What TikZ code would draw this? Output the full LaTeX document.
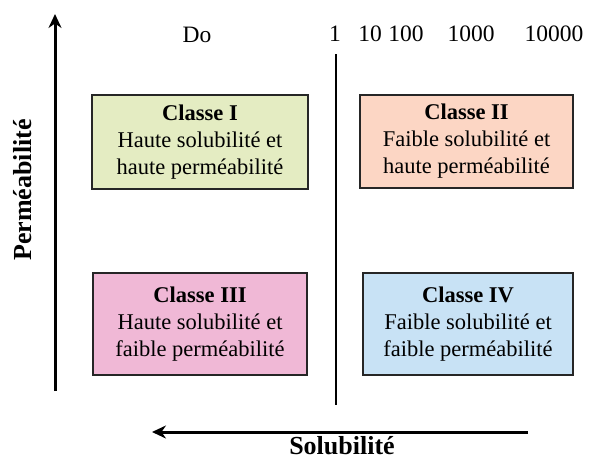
\documentclass[tikz,border=0pt]{standalone}
\usepackage{fontspec}
\setmainfont{Liberation Serif}
\usetikzlibrary{arrows.meta}
\definecolor{cI}{RGB}{228,236,194}
\definecolor{cII}{RGB}{252,214,196}
\definecolor{cIII}{RGB}{240,184,214}
\definecolor{cIV}{RGB}{200,226,245}
\tikzset{
  classbox/.style={draw=black!85, line width=1.6pt, align=center, inner sep=0pt,
    font=\fontsize{22.5}{27}\selectfont},
  axislbl/.style={font=\fontsize{26}{30}\selectfont\bfseries},
  scalelbl/.style={font=\fontsize{23.5}{26}\selectfont, inner sep=0pt},
  axisarrow/.style={line width=3pt, -{Stealth[length=14pt,width=13pt]}},
  divider/.style={line width=1.8pt}
}
\begin{document}
\begin{tikzpicture}[x=1pt,y=-1pt]
\useasboundingbox[fill=white] (0,0) rectangle (589,461);
% boxes
\node[classbox, fill=cI, minimum width=216pt, minimum height=94pt] (c1) at (200,142)
  {\textbf{Classe I}\\Haute solubilité et\\haute perméabilité};
\node[classbox, fill=cII, minimum width=213pt, minimum height=93pt] (c2) at (466.5,141.5)
  {\textbf{Classe II}\\Faible solubilité et\\haute perméabilité};
\node[classbox, fill=cIII, minimum width=214pt, minimum height=102pt] (c3) at (200,324)
  {\textbf{Classe III}\\Haute solubilité et\\faible perméabilité};
\node[classbox, fill=cIV, minimum width=210pt, minimum height=102pt] (c4) at (468,324)
  {\textbf{Classe IV}\\Faible solubilité et\\faible perméabilité};
% axes
\coordinate (vbot) at (55,391);
\coordinate (vtop) at (55,14);
\draw[axisarrow] (vbot) -- (vtop);
\coordinate (hright) at (528,432);
\coordinate (hleft) at (152,432);
\draw[axisarrow] (hright) -- (hleft);
\coordinate (dtop) at (336,54);
\coordinate (dbot) at (336,405);
\draw[divider] (dtop) -- (dbot);
% labels
\node[axislbl, rotate=90] (perm) at (23,190) {Perméabilité};
\node[axislbl, inner sep=0pt] (sol) at (342,446) {Solubilité};
\node[scalelbl] (do) at (197,35) {Do};
\node[scalelbl] (n1) at (335,34) {1};
\node[scalelbl] (n10) at (370,34) {10};
\node[scalelbl] (n100) at (406,34) {100};
\node[scalelbl] (n1000) at (471,34) {1000};
\node[scalelbl] (n10000) at (554,34) {10000};
\end{tikzpicture}
\end{document}
